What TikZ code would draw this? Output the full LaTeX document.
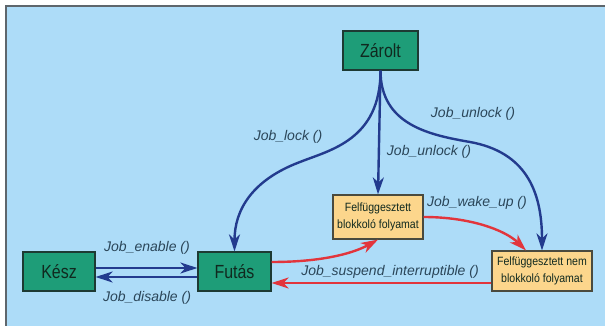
\documentclass[tikz,border=0pt]{standalone}
\usepackage{fontspec}
\setmainfont{Liberation Sans}
\newfontfamily\condfont[FakeStretch=0.84]{Liberation Sans}
\newfontfamily\boxfont[FakeStretch=0.88]{Liberation Sans}
\usetikzlibrary{arrows.meta}
\definecolor{bgblue}{HTML}{ADDCF8}
\definecolor{framegray}{HTML}{5E666C}
\definecolor{boxgreen}{HTML}{1E9D78}
\definecolor{greenborder}{HTML}{1D3A33}
\definecolor{boxorange}{HTML}{FCD68C}
\definecolor{orangeborder}{HTML}{4A4A3E}
\definecolor{arrowblue}{HTML}{233B8E}
\definecolor{arrowred}{HTML}{E2353C}
\definecolor{labelcol}{HTML}{2B4659}
\definecolor{nodetext}{HTML}{10291F}
\tikzset{
  greenbox/.style={draw=greenborder, fill=boxgreen, line width=1.2pt, inner sep=0pt,
    minimum width=73pt, minimum height=39pt, text=nodetext,
    font=\condfont\fontsize{19}{21}\selectfont},
  orangebox/.style={draw=orangeborder, fill=boxorange, line width=1.2pt, inner sep=0pt,
    minimum height=42pt, text=nodetext, align=center,
    font=\boxfont\fontsize{12}{17}\selectfont},
  bluearrow/.style={draw=arrowblue, line width=2.4pt,
    -{Stealth[length=17pt,width=11pt,inset=5pt]}},
  redarrow/.style={draw=arrowred, line width=2.4pt,
    -{Stealth[length=17pt,width=11pt,inset=5pt]}},
  lbl/.style={text=labelcol, inner sep=1pt, font=\fontsize{14}{16}\selectfont\itshape}
}
\begin{document}
\begin{tikzpicture}[x=1pt,y=-1pt]
\useasboundingbox (0,0) rectangle (605,326);
\fill[white] (0,0) rectangle (605,326);
\fill[bgblue] (6,6) rectangle (605,326);
\draw[framegray, line width=1.5pt] (6,326) -- (6,6) -- (605,6);

\node[greenbox, minimum width=75pt] (zarolt) at (380.5,50.5) {Zárolt};
\node[greenbox, minimum width=72pt] (kesz) at (59,271.5) {Kész};
\node[greenbox, minimum width=73pt] (futas) at (234.5,271.5) {Futás};
\node[orangebox, minimum width=90pt, minimum height=44pt] (blokk) at (378,217) {Felfüggesztett\\blokkoló folyamat};
\node[orangebox, minimum width=100pt, minimum height=40pt] (nem) at (542,271) {Felfüggesztett nem\\blokkoló folyamat};

% blue arrows from Zárolt
\draw[bluearrow] (zarolt.south) -- (blokk.north);
\draw[bluearrow] (zarolt.south) .. controls (380.5,140) and (330,150) .. (300,162)
  .. controls (252,180) and (234.5,210) .. (futas.north);
\draw[bluearrow] (zarolt.south) .. controls (380.5,125) and (430,135) .. (470,142)
  .. controls (525,152) and (542,190) .. (nem.north);

% Kész <-> Futás
\draw[bluearrow] ([yshift=3.5pt]kesz.east) -- ([yshift=3.5pt]futas.west);
\draw[bluearrow] ([yshift=-5.5pt]futas.west) -- ([yshift=-5.5pt]kesz.east);

% red arrows
\draw[redarrow] ([yshift=9.5pt]futas.east) .. controls (320,262) and (352,254) .. (blokk.south);
\draw[redarrow] (blokk.east) .. controls (470,217) and (505,230) .. ([xshift=-16pt]nem.north);
\draw[redarrow] ([yshift=-12pt]nem.west) -- ([yshift=-11.5pt]futas.east);

% labels
\node[lbl] (l1) at (147,248) {Job\_enable ()};
\node[lbl] (l2) at (147,298) {Job\_disable ()};
\node[lbl] (l3) at (288,137) {Job\_lock ()};
\node[lbl] (l4) at (429,152) {Job\_unlock ()};
\node[lbl] (l5) at (473,114) {Job\_unlock ()};
\node[lbl] (l6) at (477,203) {Job\_wake\_up ()};
\node[lbl] (l7) at (390,272) {Job\_suspend\_interruptible ()};
\end{tikzpicture}
\end{document}
